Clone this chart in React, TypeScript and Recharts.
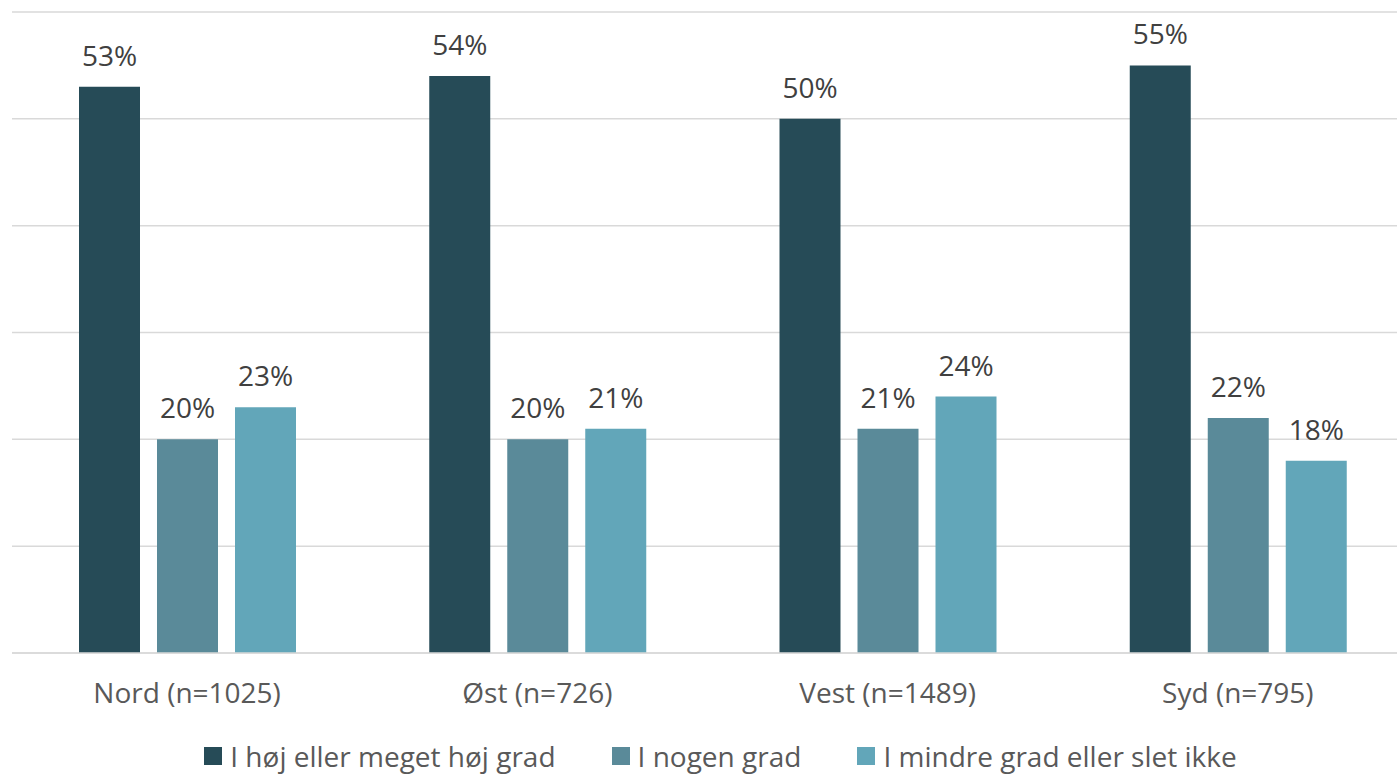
import { BarChart, Bar, XAxis, YAxis, CartesianGrid, LabelList, Legend } from 'recharts';

const categories = ['Nord (n=1025)', 'Øst (n=726)', 'Vest (n=1489)', 'Syd (n=795)'];
const hoejGrad = [53, 54, 50, 55];
const nogenGrad = [20, 20, 21, 22];
const mindreGrad = [23, 21, 24, 18];
const seriesNames = ['I høj eller meget høj grad', 'I nogen grad', 'I mindre grad eller slet ikke'];
const yTicks = [0, 10, 20, 30, 40, 50, 60];

const COLORS = ['#264b57', '#5a8a99', '#62a6b9'];
const FONT = '"Open Sans", sans-serif';

const chartData = categories.map((c, i) => ({
  kategori: c,
  s0: hoejGrad[i],
  s1: nogenGrad[i],
  s2: mindreGrad[i],
}));

const renderLegend = () => (
  <div style={{ display: 'flex', justifyContent: 'center', fontFamily: FONT, fontSize: 28, color: '#595959', paddingLeft: 16 }}>
    {seriesNames.map((n, i) => (
      <div key={n} style={{ display: 'flex', alignItems: 'center', marginRight: i < 2 ? 56 : 0 }}>
        <span style={{ width: 18, height: 18, background: COLORS[i], display: 'inline-block', marginRight: 8 }} />
        <span style={{ lineHeight: '36px', whiteSpace: 'nowrap' }}>{n}</span>
      </div>
    ))}
  </div>
);

export default function App() {
  return (
    <div style={{ position: 'fixed', left: 0, top: 0, background: '#fff', width: 1397, height: 774, overflow: 'hidden' }}>
      <BarChart
        width={1413}
        height={774}
        data={chartData}
        margin={{ top: 12, right: 0, left: 12, bottom: 0 }}
        barGap={17}
        barSize={61}
      >
        <CartesianGrid vertical={false} stroke="#d9d9d9" strokeWidth={1.5} />
        <XAxis
          dataKey="kategori"
          interval={0}
          height={85}
          axisLine={{ stroke: '#d9d9d9', strokeWidth: 1.5 }}
          tickLine={false}
          tickSize={0}
          tick={({ x, y, payload }: any) => (
            <text x={x} y={y + 48} textAnchor="middle" fontSize={28} fontFamily={FONT} fill="#595959">
              {payload.value}
            </text>
          )}
        />
        <YAxis hide domain={[0, 60]} ticks={yTicks} />
        <Legend verticalAlign="bottom" content={renderLegend} wrapperStyle={{ bottom: 0 }} />
        {['s0', 's1', 's2'].map((k, i) => (
          <Bar key={k} dataKey={k} name={seriesNames[i]} fill={COLORS[i]} isAnimationActive={false}>
            <LabelList
              dataKey={k}
              position="top"
              offset={21}
              formatter={(v: any) => `${v}%`}
              style={{ fontSize: 28, fontFamily: FONT, fill: '#404040' }}
            />
          </Bar>
        ))}
      </BarChart>
    </div>
  );
}
